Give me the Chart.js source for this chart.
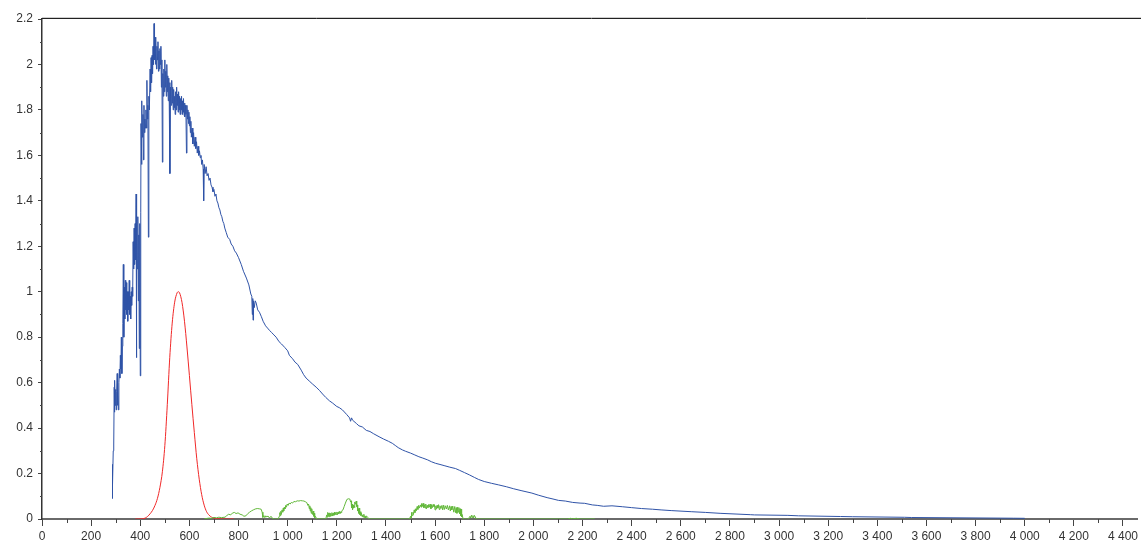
<!DOCTYPE html>
<html>
<head>
<meta charset="utf-8">
<script src="https://cdn.jsdelivr.net/npm/chart.js@4/dist/chart.umd.min.js"></script>
<style>
  html, body { margin: 0; padding: 0; background: #fff; }
  canvas { display: block; }
</style>
</head>
<body>
<canvas id="spectrumChart" width="1141" height="542"></canvas>
<script>
// wavelength (nm) / value pairs

const blueNm = [
  285, 286, 288, 290, 292, 294, 295, 296, 298, 300, 302, 304, 306, 307, 309, 311, 313, 315, 317, 319,
  321, 323, 325, 327, 329, 331, 333, 335, 337, 339, 341, 343, 345, 347, 349, 351, 353, 355, 357, 359,
  361, 363, 365, 367, 369, 371, 373, 375, 377, 379, 381, 383, 384, 386, 388, 390, 392, 394, 396, 398,
  400, 402, 403, 405, 407, 409, 411, 413, 415, 417, 419, 421, 423, 425, 427, 429, 431, 433, 435, 437,
  440, 442, 444, 446, 448, 450, 452, 454, 456, 458, 460, 462, 464, 466, 468, 470, 472, 474, 476, 478,
  480, 482, 484, 486, 488, 490, 492, 494, 496, 498, 500, 502, 504, 506, 508, 510, 512, 514, 516, 518,
  520, 521, 523, 526, 528, 530, 532, 534, 536, 538, 540, 542, 544, 546, 548, 550, 552, 554, 556, 558,
  560, 562, 564, 566, 568, 570, 572, 574, 576, 578, 580, 582, 584, 586, 588, 590, 592, 594, 596, 598,
  600, 602, 604, 606, 608, 611, 614, 617, 620, 623, 626, 629, 632, 635, 638, 641, 644, 647, 650, 653,
  656, 658, 660, 664, 668, 672, 676, 680, 684, 688, 692, 696, 700, 704, 708, 712, 716, 720, 724, 728,
  732, 736, 740, 744, 750, 756, 764, 770, 777, 784, 791, 800, 811, 820, 832, 842, 850, 854, 856, 858,
  859, 861, 864, 868, 872, 878, 885, 893, 900, 910, 918, 926, 935, 944, 953, 965, 975, 988, 1000, 1007,
  1020, 1030, 1041, 1055, 1065, 1075, 1090, 1100, 1116, 1130, 1142, 1155, 1170, 1183, 1200, 1210, 1223, 1240, 1252, 1256,
  1260, 1264, 1280, 1290, 1304, 1320, 1335, 1350, 1372, 1390, 1410, 1426, 1440, 1450, 1467, 1480, 1500, 1515, 1534, 1550,
  1570, 1585, 1602, 1620, 1640, 1660, 1683, 1700, 1720, 1740, 1760, 1777, 1800, 1830, 1859, 1890, 1920, 1950, 1994, 2020,
  2056, 2080, 2102, 2130, 2160, 2190, 2209, 2240, 2260, 2286, 2320, 2362, 2400, 2440, 2485, 2520, 2561, 2645, 2700, 2760,
  2883, 2900, 3036, 3080, 3250, 3300, 3511, 3540, 3954, 4000
];
const blueVal = [
  0.09, 0.24, 0.15, 0.30, 0.33, 0.58, 0.47, 0.61, 0.50, 0.57, 0.48, 0.56, 0.64, 0.50, 0.62, 0.48, 0.60, 0.66, 0.62, 0.72,
  0.66, 0.80, 0.64, 0.76, 0.86, 1.12, 0.80, 1.02, 0.88, 1.05, 0.92, 1.04, 0.90, 1.00, 0.87, 1.00, 0.92, 1.05, 0.90, 0.98,
  0.88, 1.00, 0.94, 1.02, 0.98, 1.22, 1.10, 1.28, 1.12, 1.30, 1.14, 1.43, 0.71, 1.32, 1.10, 1.33, 0.96, 1.25, 0.75, 1.30,
  0.63, 1.35, 1.74, 1.56, 1.84, 1.68, 1.78, 1.58, 1.82, 1.70, 1.76, 1.72, 1.80, 1.72, 1.93, 1.76, 1.82, 1.24, 1.86, 1.80,
  1.98, 1.88, 2.03, 1.92, 2.04, 1.96, 2.08, 2.00, 2.18, 2.02, 2.12, 2.00, 2.11, 1.98, 2.08, 2.02, 2.10, 1.97, 2.06, 1.98,
  2.07, 2.00, 2.08, 1.90, 2.02, 1.57, 1.96, 1.86, 1.98, 1.88, 2.02, 1.90, 1.97, 1.86, 2.00, 1.88, 1.95, 1.84, 1.94, 1.83,
  1.92, 1.52, 1.90, 1.82, 1.93, 1.83, 1.90, 1.80, 1.89, 1.81, 1.86, 1.78, 1.88, 1.80, 1.90, 1.82, 1.87, 1.79, 1.88, 1.80,
  1.86, 1.78, 1.85, 1.80, 1.86, 1.78, 1.84, 1.79, 1.85, 1.78, 1.83, 1.77, 1.82, 1.78, 1.61, 1.82, 1.76, 1.80, 1.74, 1.79,
  1.73, 1.77, 1.70, 1.75, 1.68, 1.72, 1.65, 1.70, 1.64, 1.68, 1.63, 1.66, 1.61, 1.64, 1.60, 1.62, 1.59, 1.60, 1.56, 1.58,
  1.54, 1.40, 1.56, 1.52, 1.55, 1.51, 1.52, 1.49, 1.50, 1.47, 1.46, 1.44, 1.45, 1.42, 1.43, 1.40, 1.39, 1.37, 1.36, 1.34,
  1.33, 1.31, 1.30, 1.28, 1.26, 1.24, 1.23, 1.21, 1.20, 1.18, 1.17, 1.15, 1.12, 1.09, 1.06, 1.03, 0.99, 0.98, 0.90, 0.97,
  0.875, 0.96, 0.93, 0.96, 0.95, 0.92, 0.91, 0.89, 0.87, 0.85, 0.84, 0.83, 0.82, 0.81, 0.80, 0.78, 0.77, 0.755, 0.74, 0.72,
  0.705, 0.69, 0.68, 0.655, 0.635, 0.62, 0.605, 0.595, 0.58, 0.565, 0.55, 0.535, 0.52, 0.51, 0.495, 0.49, 0.48, 0.46, 0.445, 0.43,
  0.445, 0.435, 0.42, 0.41, 0.405, 0.39, 0.385, 0.375, 0.362, 0.352, 0.342, 0.333, 0.322, 0.314, 0.304, 0.298, 0.29, 0.283, 0.274, 0.268,
  0.26, 0.252, 0.245, 0.24, 0.234, 0.228, 0.222, 0.214, 0.204, 0.194, 0.183, 0.174, 0.165, 0.157, 0.150, 0.142, 0.133, 0.125, 0.114, 0.105,
  0.094, 0.088, 0.082, 0.079, 0.073, 0.070, 0.069, 0.062, 0.060, 0.056, 0.058, 0.054, 0.050, 0.046, 0.043, 0.040, 0.037, 0.032, 0.029, 0.025,
  0.019, 0.018, 0.016, 0.014, 0.011, 0.010, 0.0075, 0.0065, 0.0035, 0.003
];

const redNm = [
  380, 390, 400, 410, 420, 430, 440, 450, 460, 470, 480, 490, 500, 510, 520, 530, 540, 550, 555, 560,
  570, 580, 590, 600, 610, 620, 630, 640, 650, 660, 670, 680, 690, 700, 710, 720, 730, 740, 750, 760, 770, 780
];
const redVal = [
  0.00004, 0.00012, 0.0004, 0.0012, 0.004, 0.0116, 0.023, 0.038, 0.06, 0.091, 0.139, 0.208, 0.323, 0.503, 0.71, 0.862, 0.954, 0.995, 1.0, 0.995,
  0.952, 0.87, 0.757, 0.631, 0.503, 0.381, 0.265, 0.175, 0.107, 0.061, 0.032, 0.017, 0.0082, 0.0041, 0.0021, 0.00105, 0.00052, 0.00025, 0.00012, 0.00006, 0.00003, 0.000015
];

const greenNm = [
  660, 668, 680, 690, 700, 710, 720, 730, 745, 752, 760, 768, 775, 783, 790, 798, 806, 815, 822, 830,
  838, 845, 853, 860, 868, 876, 884, 892, 896, 899, 903, 907, 911, 915, 920, 926, 932, 938, 945, 961,
  966, 968, 970, 972, 974, 977, 980, 982, 984, 986, 989, 992, 995, 998, 1002, 1006, 1010, 1015, 1020, 1025,
  1032, 1039, 1046, 1052, 1060, 1066, 1072, 1078, 1082, 1085, 1088, 1090, 1092, 1094, 1096, 1098, 1101, 1104, 1106, 1108,
  1110, 1113, 1118, 1155, 1159, 1161, 1163, 1165, 1167, 1169, 1171, 1173, 1175, 1178, 1180, 1183, 1185, 1188, 1190, 1192,
  1194, 1197, 1200, 1203, 1205, 1208, 1210, 1213, 1215, 1218, 1220, 1225, 1230, 1235, 1241, 1247, 1253, 1256, 1258, 1260,
  1262, 1264, 1266, 1268, 1270, 1272, 1274, 1276, 1279, 1281, 1283, 1285, 1287, 1289, 1291, 1293, 1295, 1298, 1300, 1303,
  1305, 1308, 1310, 1313, 1315, 1318, 1320, 1326, 1332, 1496, 1500, 1502, 1504, 1507, 1510, 1512, 1515, 1518, 1520, 1523,
  1527, 1530, 1533, 1536, 1540, 1543, 1545, 1548, 1551, 1554, 1556, 1559, 1562, 1565, 1568, 1571, 1574, 1577, 1580, 1583,
  1586, 1589, 1592, 1595, 1597, 1600, 1603, 1606, 1608, 1611, 1614, 1617, 1620, 1624, 1628, 1631, 1635, 1638, 1642, 1646,
  1650, 1654, 1659, 1662, 1665, 1668, 1672, 1676, 1680, 1683, 1686, 1689, 1692, 1695, 1697, 1700, 1702, 1704, 1706, 1708,
  1710, 1714, 1735, 1742, 1745, 1748, 1751, 1754, 1757, 1760, 1768, 2140, 2150, 2160, 2175, 2190, 2250
];
const greenVal = [
  0, 0.002, 0.004, 0.003, 0.007, 0.005, 0.008, 0.006, 0.008, 0.015, 0.021, 0.018, 0.026, 0.029, 0.024, 0.027, 0.021, 0.018, 0.012, 0.014,
  0.024, 0.030, 0.036, 0.040, 0.044, 0.046, 0.045, 0.043, 0.030, 0.007, 0.015, 0.006, 0.014, 0.009, 0.013, 0.004, 0.012, 0.003, 0, 0,
  0.012, 0.028, 0.015, 0.034, 0.020, 0.040, 0.030, 0.048, 0.035, 0.052, 0.044, 0.060, 0.052, 0.066, 0.060, 0.070, 0.066, 0.073, 0.070, 0.077,
  0.076, 0.080, 0.079, 0.081, 0.080, 0.079, 0.076, 0.072, 0.060, 0.066, 0.045, 0.058, 0.035, 0.050, 0.025, 0.045, 0.020, 0.035, 0.012, 0.025,
  0.006, 0.012, 0, 0, 0.018, 0.008, 0.029, 0.012, 0.026, 0.010, 0.027, 0.012, 0.025, 0.014, 0.028, 0.013, 0.026, 0.016, 0.030, 0.018,
  0.028, 0.020, 0.031, 0.019, 0.030, 0.022, 0.034, 0.025, 0.032, 0.028, 0.036, 0.040, 0.055, 0.070, 0.086, 0.089, 0.088, 0.075, 0.080, 0.050,
  0.065, 0.040, 0.062, 0.048, 0.058, 0.050, 0.075, 0.065, 0.079, 0.055, 0.062, 0.035, 0.045, 0.025, 0.048, 0.020, 0.032, 0.015, 0.026, 0.010,
  0.018, 0.008, 0.021, 0.006, 0.012, 0.004, 0.014, 0.007, 0, 0, 0.012, 0.004, 0.029, 0.015, 0.030, 0.020, 0.040, 0.028, 0.045, 0.035,
  0.055, 0.042, 0.060, 0.048, 0.062, 0.052, 0.068, 0.055, 0.069, 0.050, 0.063, 0.048, 0.066, 0.045, 0.060, 0.050, 0.064, 0.052, 0.066, 0.045,
  0.062, 0.050, 0.064, 0.055, 0.063, 0.040, 0.058, 0.045, 0.060, 0.048, 0.063, 0.042, 0.058, 0.046, 0.060, 0.040, 0.061, 0.042, 0.058, 0.044,
  0.060, 0.040, 0.058, 0.035, 0.055, 0.040, 0.057, 0.030, 0.055, 0.028, 0.050, 0.025, 0.052, 0.030, 0.050, 0.022, 0.045, 0.015, 0.043, 0.010,
  0.020, 0, 0, 0.012, 0.004, 0.017, 0.006, 0.015, 0.005, 0.016, 0, 0, 0.003, 0.001, 0.003, 0, 0
];

const xTicks = [0, 200, 400, 600, 800, 1000, 1200, 1400, 1600, 1800, 2000, 2200,
  2400, 2600, 2800, 3000, 3200, 3400, 3600, 3800, 4000, 4200, 4400];
const yTicks = [0, 0.2, 0.4, 0.6, 0.8, 1, 1.2, 1.4, 1.6, 1.8, 2, 2.2];

function toPoints(xs, ys) {
  return xs.map((x, i) => ({ x: x, y: ys[i] }));
}

function fmtThousands(v) {
  const s = String(Math.round(v));
  return s.replace(/\B(?=(\d{3})+(?!\d))/g, " ");
}

// frame line on top + short minor ticks between the labelled ones
const framePlugin = {
  id: "frame",
  afterDraw(chart) {
    const ctx = chart.ctx;
    const area = chart.chartArea;
    const xs = chart.scales.x;
    const ys = chart.scales.y;
    ctx.save();
    ctx.strokeStyle = "#cfcfcf";
    ctx.lineWidth = 1;
    ctx.beginPath();
    ctx.moveTo(area.left, area.top - 1.5);
    ctx.lineTo(chart.width, area.top - 1.5);
    ctx.stroke();
    ctx.strokeStyle = "#222";
    ctx.beginPath();
    ctx.moveTo(area.left, area.top - 0.5);
    ctx.lineTo(chart.width, area.top - 0.5);
    ctx.stroke();

    ctx.strokeStyle = "#444";
    ctx.lineWidth = 1;
    ctx.beginPath();
    for (let i = 0; i < xTicks.length; i++) {
      const v = xTicks[i] + 100;
      if (v > xs.max) break;
      const px = Math.round(xs.getPixelForValue(v)) + 0.5;
      ctx.moveTo(px, area.bottom);
      ctx.lineTo(px, area.bottom + 4);
    }
    for (let i = 0; i < yTicks.length - 1; i++) {
      const v = (yTicks[i] + yTicks[i + 1]) / 2;
      const py = Math.round(ys.getPixelForValue(v)) + 0.5;
      ctx.moveTo(area.left, py);
      ctx.lineTo(area.left - 2, py);
    }
    ctx.stroke();
    ctx.restore();
  }
};

const tickFont = { family: "'Liberation Sans', Arial, sans-serif", size: 12 };

new Chart(document.getElementById("spectrumChart"), {
  type: "line",
  data: {
    datasets: [
      {
        data: toPoints(greenNm, greenVal),
        borderColor: "#63b83b",
        borderWidth: 1,
        pointRadius: 0
      },
      {
        data: toPoints(redNm, redVal),
        borderColor: "#f02828",
        borderWidth: 1,
        pointRadius: 0,
        cubicInterpolationMode: "monotone"
      },
      {
        data: toPoints(blueNm, blueVal),
        borderColor: "#2f53a7",
        borderWidth: 1,
        pointRadius: 0
      }
    ]
  },
  options: {
    responsive: false,
    animation: false,
    events: [],
    layout: { padding: { top: 19, right: 0, left: 0, bottom: 0 } },
    plugins: {
      legend: { display: false },
      tooltip: { enabled: false }
    },
    scales: {
      x: {
        type: "linear",
        min: 0,
        max: 4460,
        afterBuildTicks: (scale) => { scale.ticks = xTicks.map(v => ({ value: v })); },
        afterFit: (scale) => { scale.height = 23; },
        grid: {
          drawOnChartArea: false,
          drawTicks: true,
          tickLength: 7,
          tickColor: "#444"
        },
        border: { display: true, color: "#6a6a6a", width: 2 },
        ticks: {
          autoSkip: false,
          maxRotation: 0,
          padding: 3,
          color: "#333",
          font: tickFont,
          callback: (v) => fmtThousands(v)
        }
      },
      y: {
        type: "linear",
        min: 0,
        max: 2.2,
        afterBuildTicks: (scale) => { scale.ticks = yTicks.map(v => ({ value: v })); },
        afterFit: (scale) => { scale.width = 42; },
        grid: {
          drawOnChartArea: false,
          drawTicks: true,
          tickLength: 4,
          tickColor: "#444"
        },
        border: { display: true, color: "#333", width: 1.5 },
        ticks: {
          autoSkip: false,
          padding: 5,
          color: "#333",
          font: tickFont,
          callback: (v) => String(Math.round(v * 10) / 10)
        }
      }
    }
  },
  plugins: [framePlugin]
});
</script>
</body>
</html>
